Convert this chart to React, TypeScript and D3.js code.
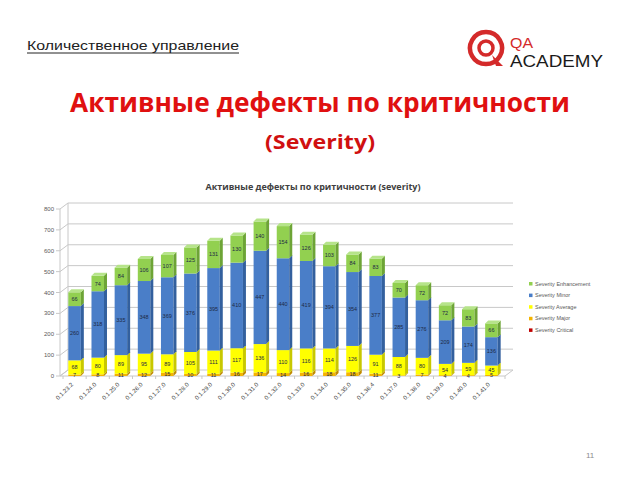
import React from "react";
import * as d3 from "d3";

const categories = ["0.1.23.2","0.1.24.0","0.1.25.0","0.1.26.0","0.1.27.0","0.1.28.0","0.1.29.0","0.1.30.0","0.1.31.0","0.1.32.0","0.1.33.0","0.1.34.0","0.1.35.0","0.1.36.4","0.1.37.0","0.1.38.0","0.1.39.0","0.1.40.0","0.1.41.0"];
const critical = [0,0,0,0,0,0,0,0,0,0,0,0,0,0,0,0,0,0,0];
const major = [7,8,11,12,15,10,11,16,17,14,16,18,18,11,3,7,4,4,5];
const average = [68,80,89,95,89,105,111,117,136,110,116,114,126,91,88,80,54,59,45];
const minor = [260,318,335,348,369,376,395,410,447,440,419,394,354,377,285,276,209,174,136];
const enhancement = [66,74,84,106,107,125,131,130,140,154,126,103,84,83,70,72,72,83,66];
const yTicks = [0,100,200,300,400,500,600,700,800];

const seriesKeys = ["critical","major","average","minor","enhancement"];
const legendNames = ["Severity Enhancement","Severity Minor","Severity Average","Severity Major","Severity Critical"];
const legendKeys = ["enhancement","minor","average","major","critical"];
const colors: Record<string, { front: string; side: string; top: string }> = {
  critical: { front: "#c00000", side: "#8a0000", top: "#e04040" },
  major: { front: "#f5b400", side: "#c08a00", top: "#ffd050" },
  average: { front: "#ffff00", side: "#c8c800", top: "#ffff80" },
  minor: { front: "#4a7ec8", side: "#33609e", top: "#7aa2dc" },
  enhancement: { front: "#92d050", side: "#6da436", top: "#b6e48a" },
};

export default function App() {
  const rows = categories.map((c, i) => ({
    cat: c,
    critical: critical[i],
    major: major[i],
    average: average[i],
    minor: minor[i],
    enhancement: enhancement[i],
  }));
  const stacked = d3.stack<any>().keys(seriesKeys)(rows);

  const x = d3.scaleBand<string>().domain(categories).range([63, 503]).paddingInner(0.46).paddingOuter(0.23);
  const y = d3.scaleLinear().domain([0, 800]).range([376, 209]);
  const bw = x.bandwidth();
  const ddx = 3, ddy = -3; // bar depth
  const wdx = 8, wdy = -6; // wall depth
  const wallRight = 505;

  return (
    <svg width={640} height={480} style={{ position: "absolute", left: 0, top: 0, background: "#fff" }}>
      {/* Header */}
      <text x={27} y={50} fontFamily="Liberation Sans, Arial, sans-serif" fontSize={13.5} fill="#222" textLength={212} lengthAdjust="spacingAndGlyphs">Количественное управление</text>
      <line x1={27} y1={53} x2={239} y2={53} stroke="#222" strokeWidth={1} />

      {/* Logo */}
      <g>
        <path d="M486,32 a16,16 0 1,0 0.01,0 Z" fill="none" stroke="#d42a2a" strokeWidth={4.5} />
        <circle cx={486} cy={48} r={7} fill="none" stroke="#d42a2a" strokeWidth={3.5} />
        <path d="M492,55 L503,66 L496,66 Z" fill="#d42a2a" />
        <text x={510} y={48} fontFamily="Liberation Sans, Arial, sans-serif" fontSize={14} fill="#d42a2a" textLength={23} lengthAdjust="spacingAndGlyphs">QA</text>
        <text x={510} y={67} fontFamily="Liberation Sans, Arial, sans-serif" fontSize={17} fill="#1a1a1a" textLength={93} lengthAdjust="spacingAndGlyphs">ACADEMY</text>
      </g>

      {/* Slide title */}
      <text x={320} y={112} textAnchor="middle" fontFamily="Open Sans, sans-serif" fontWeight={700} fontSize={26} fill="#e01010" textLength={500} lengthAdjust="spacingAndGlyphs">Активные дефекты по критичности</text>
      <text x={320} y={149} textAnchor="middle" fontFamily="Open Sans, sans-serif" fontWeight={700} fontSize={20} fill="#d01010" textLength={110} lengthAdjust="spacingAndGlyphs">(Severity)</text>

      {/* Chart title */}
      <text x={313} y={190} textAnchor="middle" fontFamily="Open Sans, sans-serif" fontWeight={700} fontSize={9} fill="#404040" textLength={215} lengthAdjust="spacingAndGlyphs">Активные дефекты по критичности (severity)</text>

      {/* Walls & gridlines */}
      <g stroke="#c8c8c8" strokeWidth={1} fill="none">
        {yTicks.map((t) => (
          <g key={t}>
            <line x1={60} y1={y(t)} x2={60 + wdx} y2={y(t) + wdy} />
            {t > 0 && <line x1={60 + wdx} y1={y(t) + wdy} x2={wallRight + wdx} y2={y(t) + wdy} />}
            <line x1={56} y1={y(t)} x2={60} y2={y(t)} />
          </g>
        ))}
        <line x1={60} y1={y(0)} x2={60} y2={y(800)} />
        <line x1={60 + wdx} y1={y(0) + wdy} x2={60 + wdx} y2={y(800) + wdy} />
        <path d={`M60,${y(0)} L${wallRight},${y(0)} L${wallRight + wdx},${y(0) + wdy} L${60 + wdx},${y(0) + wdy} Z`} />
        {categories.map((c) => {
          const bx = (x(c) as number) - (x.step() - bw) / 2;
          return <line key={c} x1={bx} y1={y(0)} x2={bx} y2={y(0) + 3} />;
        })}
        <line x1={wallRight} y1={y(0)} x2={wallRight} y2={y(0) + 3} />
      </g>

      {/* Y tick labels */}
      {yTicks.map((t) => (
        <text key={t} x={54} y={y(t) + 2} textAnchor="end" fontFamily="Liberation Sans, Arial, sans-serif" fontSize={6} fill="#595959">{t}</text>
      ))}

      {/* Bars */}
      {categories.map((c, i) => {
        const x0 = x(c) as number;
        const segs = stacked.map((s) => ({ key: s.key, y0: s[i][0], y1: s[i][1] })).filter((s) => s.y1 > s.y0);
        const topSeg = segs[segs.length - 1];
        return (
          <g key={c}>
            {segs.map((s) => {
              const yb = y(s.y0), yt = y(s.y1);
              const col = colors[s.key];
              return (
                <g key={s.key}>
                  <rect x={x0} y={yt} width={bw} height={yb - yt} fill={col.front} />
                  <path d={`M${x0 + bw},${yb} L${x0 + bw + ddx},${yb + ddy} L${x0 + bw + ddx},${yt + ddy} L${x0 + bw},${yt} Z`} fill={col.side} />
                </g>
              );
            })}
            {topSeg && (
              <path
                d={`M${x0},${y(topSeg.y1)} L${x0 + ddx},${y(topSeg.y1) + ddy} L${x0 + bw + ddx},${y(topSeg.y1) + ddy} L${x0 + bw},${y(topSeg.y1)} Z`}
                fill={colors[topSeg.key].top}
              />
            )}
            {segs.map((s) => (
              <text key={"l" + s.key} x={x0 + bw / 2} y={(y(s.y0) + y(s.y1)) / 2 + 2} textAnchor="middle" fontFamily="Liberation Sans, Arial, sans-serif" fontSize={5.5} fill="#1e2a44">
                {s.y1 - s.y0}
              </text>
            ))}
          </g>
        );
      })}

      {/* X labels */}
      {categories.map((c) => {
        const cx = (x(c) as number) + bw / 2 - 1;
        return (
          <text key={c} transform={`translate(${cx},${y(0) + 9}) rotate(-45)`} textAnchor="end" fontFamily="Liberation Sans, Arial, sans-serif" fontSize={6} fill="#404040">{c}</text>
        );
      })}

      {/* Legend */}
      {legendKeys.map((k, i) => (
        <g key={k} transform={`translate(529,${284 + i * 11.6})`}>
          <rect x={0} y={-2} width={3.5} height={3.5} fill={colors[k].front} />
          <text x={6} y={1.5} fontFamily="Liberation Sans, Arial, sans-serif" fontSize={5.5} fill="#595959">{legendNames[i]}</text>
        </g>
      ))}

      {/* Slide number */}
      <text x={586} y={458} fontFamily="Liberation Sans, Arial, sans-serif" fontSize={8} fill="#8c8c8c">11</text>
    </svg>
  );
}
